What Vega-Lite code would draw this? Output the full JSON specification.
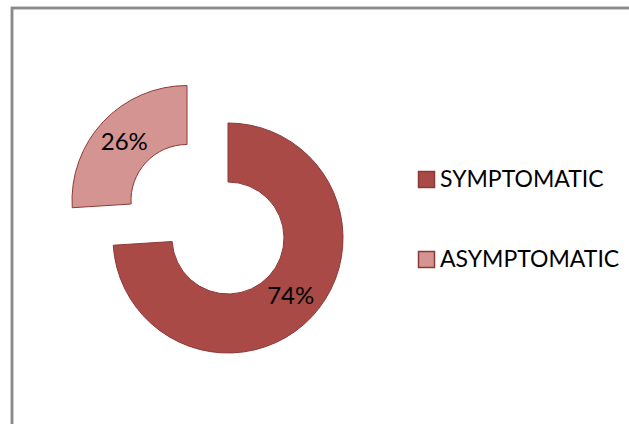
{
  "$schema": "https://vega.github.io/schema/vega-lite/v6.json",
  "usermeta": {"embedOptions": {"actions": false}},
  "width": 617,
  "height": 416,
  "autosize": {"type": "none"},
  "padding": {"left": 12, "top": 8, "right": 0, "bottom": 0},
  "background": "white",
  "data": {
    "values": [
      {"status": "SYMPTOMATIC", "share": 0.74},
      {"status": "ASYMPTOMATIC", "share": 0.26}
    ]
  },
  "layer": [
    {
      "mark": {"type": "rect", "fill": "transparent", "stroke": "#8a8a8a", "strokeWidth": 2.5, "x2Offset": 20, "y2Offset": 20},
      "encoding": {
        "x": {"value": 0},
        "x2": {"value": "width"},
        "y": {"value": 0},
        "y2": {"value": "height"}
      }
    },
    {
      "mark": {"type": "arc", "innerRadius": 56, "outerRadius": 115, "stroke": "#8C3A38", "strokeWidth": 1, "xOffset": -92.5, "yOffset": 22},
      "encoding": {
        "theta": {"field": "share", "type": "quantitative", "stack": true},
        "order": {"field": "status", "sort": "descending"},
        "color": {
          "field": "status",
          "type": "nominal",
          "scale": {"domain": ["SYMPTOMATIC", "ASYMPTOMATIC"], "range": ["#A94A47", "#D49492"]},
          "legend": {
            "title": null,
            "orient": "none",
            "legendX": 403,
            "legendY": 160,
            "symbolType": "square",
            "symbolSize": 256,
            "symbolStrokeColor": "#8C3A38",
            "symbolStrokeWidth": 1.5,
            "symbolOpacity": 1,
            "labelFont": "Lato",
            "labelFontSize": 23,
            "labelColor": "#000000",
            "labelOffset": 2,
            "labelLimit": 400,
            "rowPadding": 56,
            "padding": 0
          }
        },
        "opacity": {"condition": {"test": "datum.status === 'SYMPTOMATIC'", "value": 1}, "value": 0}
      }
    },
    {
      "mark": {"type": "arc", "innerRadius": 56, "outerRadius": 115, "stroke": "#8C3A38", "strokeWidth": 1, "xOffset": -133.5, "yOffset": -15.5},
      "encoding": {
        "theta": {"field": "share", "type": "quantitative", "stack": true},
        "order": {"field": "status", "sort": "descending"},
        "color": {"field": "status", "type": "nominal"},
        "opacity": {"condition": {"test": "datum.status === 'ASYMPTOMATIC'", "value": 1}, "value": 0}
      }
    },
    {
      "mark": {"type": "text", "radius": 86, "font": "Lato", "fontSize": 24, "fill": "#000000", "xOffset": -92.5, "yOffset": 22},
      "encoding": {
        "theta": {"field": "share", "type": "quantitative", "stack": true},
        "order": {"field": "status", "sort": "descending"},
        "detail": {"field": "status", "type": "nominal"},
        "text": {"field": "share", "type": "quantitative", "format": ".0%"},
        "opacity": {"condition": {"test": "datum.status === 'SYMPTOMATIC'", "value": 1}, "value": 0}
      }
    },
    {
      "mark": {"type": "text", "radius": 86, "font": "Lato", "fontSize": 24, "fill": "#000000", "xOffset": -133.5, "yOffset": -14},
      "encoding": {
        "theta": {"field": "share", "type": "quantitative", "stack": true},
        "order": {"field": "status", "sort": "descending"},
        "detail": {"field": "status", "type": "nominal"},
        "text": {"field": "share", "type": "quantitative", "format": ".0%"},
        "opacity": {"condition": {"test": "datum.status === 'ASYMPTOMATIC'", "value": 1}, "value": 0}
      }
    }
  ]
}
